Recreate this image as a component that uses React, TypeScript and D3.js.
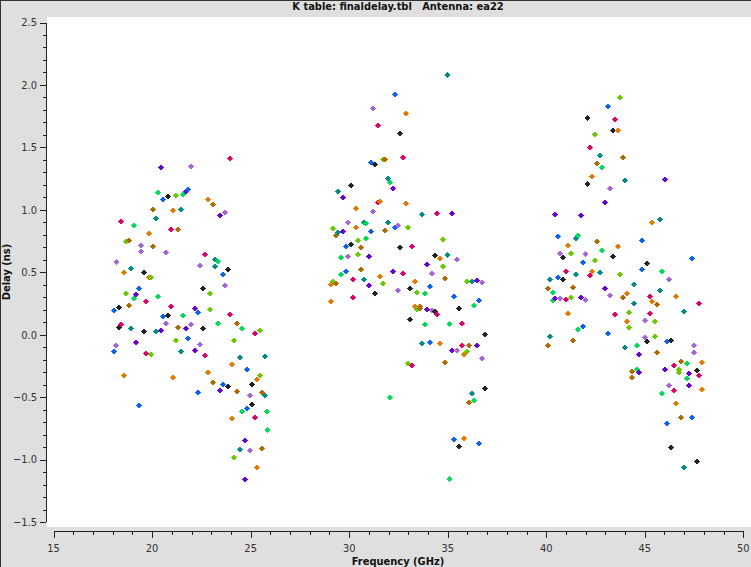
import React from "react";
import * as d3 from "d3";

// ---- Data ----
const kFreq = [18.07,18.18,18.33,18.43,18.58,18.68,18.83,18.94,19.09,19.19,19.34,19.44,19.60,19.70,19.85,19.95,20.05,20.20,20.31,20.46,20.56,20.71,20.81,20.97,21.07,21.22,21.32,21.47,21.57,21.73,21.83,21.98,
  22.18,22.33,22.44,22.59,22.69,22.84,22.94,23.10,23.20,23.35,23.45,23.60,23.70,23.86,23.96,24.06,24.16,24.31,24.47,24.57,24.72,24.82,24.97,25.07,25.23,25.33,25.48,25.58,25.73,25.84];
const kColor = ["bl","lv","bk","mg","or","li","br","te","gr","pu","bl","lv","bk","mg","or","li","br","te","gr","pu","bl","lv","bk","mg","or","li","br","te","gr","pu","bl","lv",
  "pu","bl","lv","bk","mg","or","li","br","te","gr","pu","bl","lv","bk","mg","or","li","br","te","gr","pu","bl","lv","bk","mg","or","li","br","te","gr"];
const kPolA = [0.195,0.580,0.219,0.908,0.500,0.748,0.756,0.532,0.876,0.323,0.371,0.716,0.500,0.267,0.812,0.460,1.004,0.932,1.140,1.340,1.084,0.660,1.108,0.844,0.996,1.116,0.844,1.004,1.124,1.148,1.164,1.348,
  0.211,0.179,0.556,0.371,0.644,1.084,0.331,1.044,0.604,0.588,0.956,0.484,0.980,0.524,1.412,-0.237,-0.045,0.091,-0.181,0.051,-0.845,-0.277,-0.485,-0.397,0.011,-0.357,0.035,-0.461,-0.173,-0.613];
const kPolB = [-0.133,-0.085,0.059,0.083,-0.325,0.331,0.235,0.051,0.291,-0.061,-0.565,0.668,0.027,-0.149,0.460,-0.157,0.708,0.027,0.307,0.035,0.147,0.091,0.155,0.227,-0.341,-0.045,0.059,-0.133,0.155,0.051,-0.029,0.083,
  -0.125,-0.461,-0.077,0.051,-0.165,-0.301,0.203,-0.381,0.548,0.091,-0.445,-0.397,0.396,-0.413,0.163,-0.669,-0.982,-0.453,-0.918,-0.613,-1.158,-0.589,-0.926,-0.557,-0.661,-1.062,-0.325,-0.910,-0.485,-0.765];

const kaFreq = [29.08,29.18,29.34,29.44,29.59,29.69,29.84,29.94,30.10,30.20,30.35,30.45,30.60,30.76,30.86,31.01,31.10,31.21,31.31,31.47,31.57,31.72,31.82,31.97,32.07,32.23,32.33,32.48,32.58,32.73,32.89,32.99,
  33.09,33.19,33.34,33.44,33.60,33.70,33.85,33.95,34.10,34.20,34.36,34.46,34.61,34.76,34.86,34.98,35.10,35.22,35.32,35.47,35.57,35.73,35.83,35.98,36.08,36.23,36.34,36.49,36.59,36.74,36.89];
const kaColor = ["or","li","br","te","gr","pu","bl","lv","bk","mg","or","li","br","te","gr","pu","bl","lv","bk","mg","or","li","br","te","gr","pu","bl","lv","bk","mg","or","li",
  "bk","mg","or","li","br","te","gr","pu","bl","lv","bk","mg","or","li","br","te","gr","pu","bl","lv","bk","mg","or","li","br","te","gr","pu","bl","lv","bk"];
const kaPolA = [0.404,0.852,0.796,1.148,0.620,1.100,0.708,0.900,1.196,0.444,1.012,0.756,0.700,0.900,0.892,0.628,1.380,1.813,1.364,1.677,1.068,1.404,1.404,1.252,1.220,1.172,1.925,0.876,1.612,1.420,1.773,0.860,
  0.371,0.708,0.428,0.339,0.211,0.964,0.331,0.564,0.388,0.492,0.636,0.972,0.612,0.764,0.452,2.077,0.083,0.972,0.307,0.604,0.211,0.091,-0.157,0.428,-0.085,0.428,0.235,0.436,0.275,0.420,0.003];
const kaPolB = [0.267,0.428,0.412,0.820,0.484,0.828,0.508,0.628,0.724,0.299,0.860,0.644,0.524,0.444,0.772,0.396,0.828,0.988,0.331,1.060,0.468,0.412,0.836,0.900,-0.501,0.508,0.860,0.355,0.700,0.492,1.052,-0.229,
  0.123,-0.245,0.227,0.203,0.225,-0.069,0.083,0.203,-0.061,0.195,0.187,0.163,-0.069,0.548,-0.221,0.636,-1.158,-0.125,-0.837,-0.125,-0.893,-0.085,-0.829,-0.133,-0.541,-0.469,-0.525,-0.085,-0.869,-0.189,-0.429];

const qFreq = [40.09,40.19,40.34,40.44,40.60,40.70,40.85,41.00,41.10,41.26,41.36,41.51,41.61,41.76,41.86,42.00,42.10,42.22,42.32,42.47,42.57,42.73,42.83,42.98,43.13,43.23,43.39,43.49,43.64,43.74,43.89,43.99,
  44.10,44.20,44.35,44.45,44.60,44.70,44.86,45.01,45.11,45.26,45.36,45.52,45.62,45.77,45.87,46.02,46.12,46.23,46.33,46.48,46.58,46.73,46.84,46.99,47.14,47.24,47.39,47.49,47.65,47.75,47.90];
const qColor = ["br","te","gr","pu","bl","lv","bk","mg","or","li","br","te","gr","pu","bl","lv","bk","mg","or","li","br","te","gr","pu","bl","lv","bk","mg","or","li","br","te",
  "or","li","br","te","gr","pu","bl","lv","bk","mg","or","li","br","te","gr","pu","bl","lv","bk","mg","or","li","br","te","gr","pu","bl","lv","bk","mg","or"];
const qPolA = [0.371,0.444,0.339,0.964,0.788,0.652,0.620,0.508,0.716,0.652,0.379,0.772,0.796,0.956,0.580,0.644,1.733,1.500,1.268,1.604,1.372,1.436,1.340,1.060,1.829,1.172,1.637,1.725,1.637,1.901,1.420,1.236,
  0.331,0.179,-0.293,0.404,-0.085,-0.157,0.756,0.115,0.572,0.307,0.900,0.107,0.243,0.924,0.508,1.244,-0.053,0.444,-0.045,-0.245,0.307,-0.277,-0.213,0.187,-0.229,-0.309,0.612,-0.085,-0.285,0.251,-0.221];
const qPolB = [-0.085,-0.013,0.275,0.291,0.460,0.291,0.444,0.283,0.171,0.299,-0.045,0.484,0.043,0.299,0.067,0.275,1.204,0.476,0.508,0.596,0.748,0.500,0.676,0.371,0.011,0.315,0.628,0.163,0.708,0.484,0.299,-0.101,
  0.107,0.059,-0.341,0.251,-0.277,-0.301,0.524,-0.021,-0.053,0.171,0.267,-0.013,-0.141,0.355,-0.469,-0.277,-0.709,-0.405,-0.901,-0.445,-0.549,-0.301,-0.661,-1.062,-0.349,-0.405,-0.661,-0.141,-1.014,-0.325,-0.437];

const xTickValues = [15, 20, 25, 30, 35, 40, 45, 50];
const yTickValues = [-1.5, -1.0, -0.5, 0.0, 0.5, 1.0, 1.5, 2.0, 2.5];

const palette: Record<string, string> = {
  bl: "#0a64f0", lv: "#a666d9", bk: "#222222", mg: "#e0006b", or: "#e67a00",
  li: "#66cc00", br: "#b06a00", te: "#008c8c", gr: "#00dd55", pu: "#6a00d6",
};

const titleText = "K table: finaldelay.tbl   Antenna: ea22";
const xTitle = "Frequency (GHz)";
const yTitle = "Delay (ns)";

const W = 751, H = 567;
const FONT = "'DejaVu Sans Condensed', 'DejaVu Sans', sans-serif";

export default function App() {
  const x = d3.scaleLinear().domain([15, 50]).range([53.6, 743.3]);
  const y = d3.scaleLinear().domain([-1.5, 2.5]).range([522, 22.5]);

  const bands = [
    { f: kFreq, c: kColor, a: kPolA, b: kPolB },
    { f: kaFreq, c: kaColor, a: kaPolA, b: kaPolB },
    { f: qFreq, c: qColor, a: qPolA, b: qPolB },
  ];
  const pts: { f: number; d: number; c: string }[] = [];
  bands.forEach((bd) => {
    bd.f.forEach((f, i) => {
      pts.push({ f, d: bd.a[i], c: bd.c[i] });
      pts.push({ f, d: bd.b[i], c: bd.c[i] });
    });
  });

  const xMinor = d3.range(15, 50.001, 1);
  const yMinor = d3.range(-1.5, 2.5001, 0.1);
  const r = 3;
  const axisX = 46;
  const axisY = 531;

  return (
    <svg width={W} height={H} style={{ position: "absolute", left: 0, top: 0, display: "block" }}
      fontFamily={FONT}>
      <rect x={0} y={0} width={W} height={H} fill="#dfdfdf" />
      <line x1={0.5} y1={0} x2={0.5} y2={H} stroke="#333" />
      <line x1={0} y1={0.5} x2={W} y2={0.5} stroke="#333" />
      <rect x={47} y={17} width={W - 47} height={510} fill="#ffffff" />
      <text x={398} y={10} textAnchor="middle" fontSize={11} fontWeight="bold" fill="#111"
        style={{ whiteSpace: "pre" }}>{titleText}</text>

      {/* Y axis */}
      <g shapeRendering="crispEdges" stroke="#222">
        <line x1={axisX + 0.5} x2={axisX + 0.5} y1={y(2.5)} y2={y(-1.5)} />
        {yMinor.map((v, i) => (
          <line key={"ym" + i} x1={axisX - 3} x2={axisX} y1={Math.round(y(v)) + 0.5} y2={Math.round(y(v)) + 0.5} />
        ))}
        {yTickValues.map((v) => (
          <line key={"yM" + v} x1={axisX - 6} x2={axisX} y1={Math.round(y(v)) + 0.5} y2={Math.round(y(v)) + 0.5} />
        ))}
        <line x1={x(15)} x2={x(50)} y1={axisY + 0.5} y2={axisY + 0.5} />
        {xMinor.map((v, i) => (
          <line key={"xm" + i} x1={Math.round(x(v)) + 0.5} x2={Math.round(x(v)) + 0.5} y1={axisY} y2={axisY + 4} />
        ))}
        {xTickValues.map((v) => (
          <line key={"xM" + v} x1={Math.round(x(v)) + 0.5} x2={Math.round(x(v)) + 0.5} y1={axisY} y2={axisY + 7} />
        ))}
      </g>
      {yTickValues.map((v) => (
        <text key={"yl" + v} x={37} y={y(v)} dy="0.35em" textAnchor="end" fontSize={11} fill="#333">
          {d3.format(".1f")(v)}
        </text>
      ))}
      {xTickValues.map((v) => (
        <text key={"xl" + v} x={x(v)} y={552} textAnchor="middle" fontSize={11} fill="#333">{v}</text>
      ))}
      <text x={398} y={565} textAnchor="middle" fontSize={11} fontWeight="bold" fill="#111">{xTitle}</text>
      <text transform={`translate(10,272) rotate(-90)`} textAnchor="middle" fontSize={11} fontWeight="bold" fill="#111">{yTitle}</text>

      {/* Points */}
      <g shapeRendering="crispEdges">
        {pts.map((p, i) => {
          const cx = x(p.f), cy = y(p.d);
          return (
            <path key={i} d={`M${cx},${cy - r}L${cx + r},${cy}L${cx},${cy + r}L${cx - r},${cy}Z`} fill={palette[p.c]} />
          );
        })}
      </g>
    </svg>
  );
}
